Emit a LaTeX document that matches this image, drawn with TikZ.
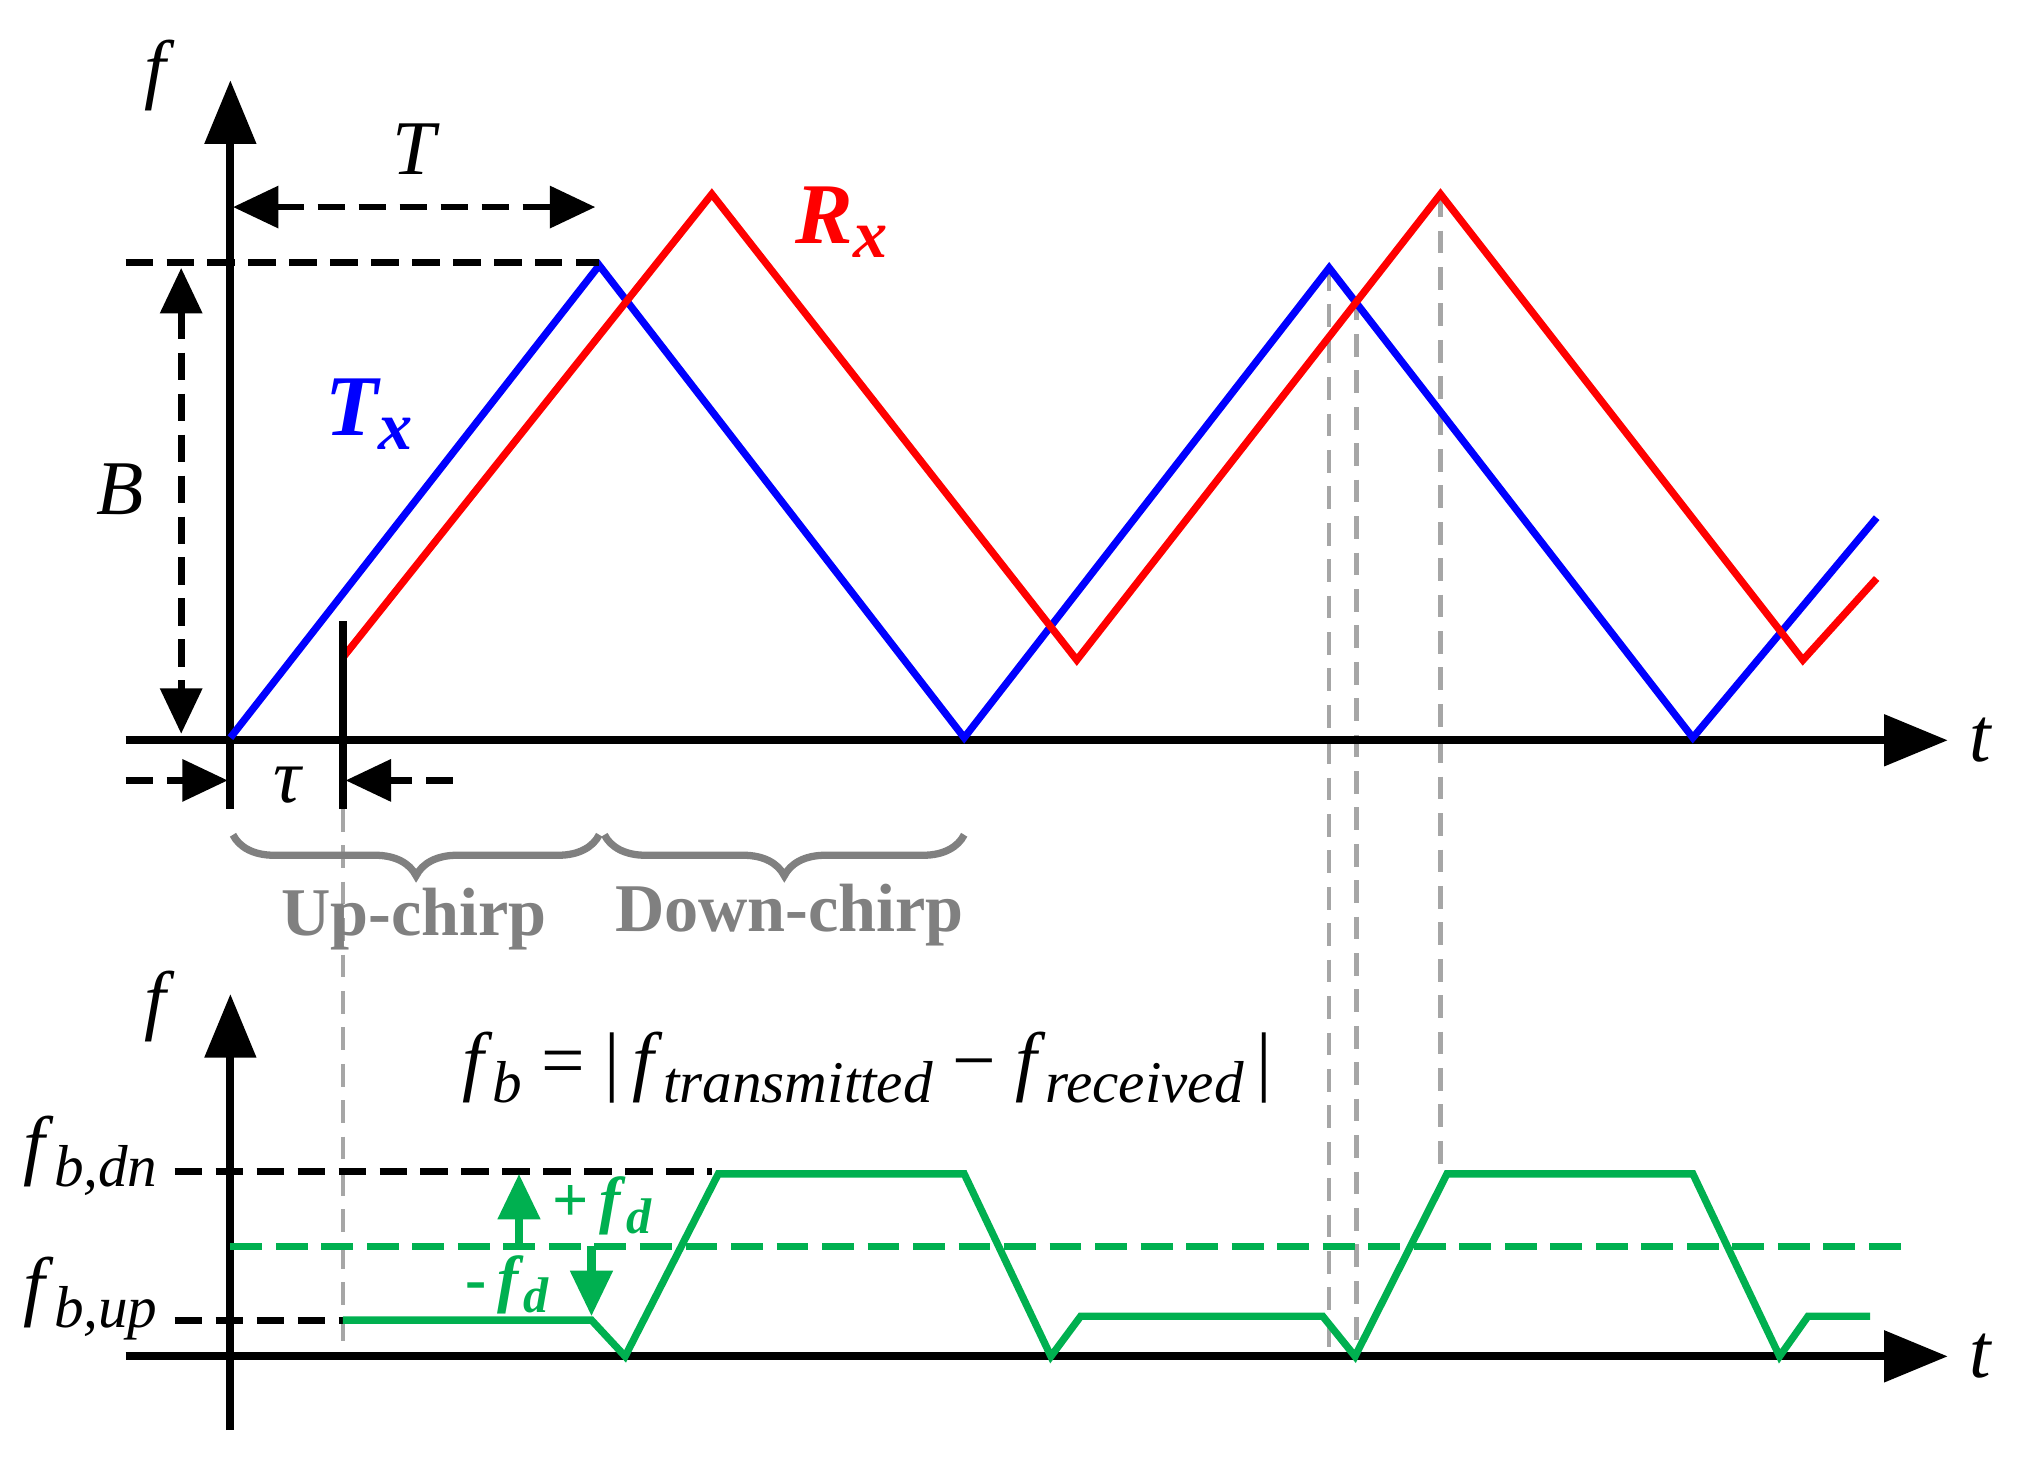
\documentclass[tikz,border=0pt]{standalone}
\usepackage{fontspec}
\setmainfont{Liberation Serif}
\usetikzlibrary{arrows.meta,decorations.pathreplacing}
\definecolor{grn}{RGB}{0,176,80}
\definecolor{gry}{RGB}{128,128,128}
\newcommand{\sbx}[1]{\raisebox{-0.45ex}{\fontsize{13}{13}\selectfont\itshape #1}}
\begin{document}
\begin{tikzpicture}[x=0.01cm,y=-0.01cm,
 ax/.style={line width=1.8pt,-{Triangle[length=14pt,width=11pt]}},
 dar/.style={line width=1.5pt,dashed,dash pattern=on 6pt off 3pt,-{Triangle[length=10pt,width=9pt]}},
 ddar/.style={dar,{Triangle[length=10pt,width=9pt]}-{Triangle[length=10pt,width=9pt]}},
 dl/.style={line width=1.5pt,dash pattern=on 6pt off 3pt},
 gd/.style={gray!70,line width=1pt,dash pattern=on 5pt off 3pt},
 sig/.style={line width=1.6pt},
 lab/.style={font=\fontsize{17}{20}\selectfont\itshape},
 brc/.style={gry,line width=1.6pt,decorate,decoration={brace,mirror,amplitude=9pt}},
 bt/.style={gry,font=\fontsize{15}{18}\selectfont\bfseries}]
\useasboundingbox (0,0) rectangle (1560,1134);
% gray guides
\draw[gd] (265,625) -- (265,1048);
\draw[gd] (1027,207) -- (1027,1048);
\draw[gd] (1048,230) -- (1048,1048);
\draw[gd] (1113,150) -- (1113,905);
% top axes
\draw[ax] (178,625) -- (178,62);
\draw[ax] (97,572) -- (1505,572);
\node[lab] (f1) at (120,58) {f};
\node[lab] (t1) at (1530,572) {t};
% signals
\draw[sig,blue] (178,570) -- (463,205) -- (745,570) -- (1027,207) -- (1308,570) -- (1450,400);
\draw[sig,red] (265,508) -- (550,150) -- (832,510) -- (1113,150) -- (1393,510) -- (1450,447);
\draw[line width=1.8pt] (265,480) -- (265,625);
\node[blue,font=\fontsize{19}{22}\selectfont\bfseries\itshape] (tx) at (285,320) {T\raisebox{-0.35ex}{\fontsize{15}{15}\selectfont x}};
\node[red,font=\fontsize{19}{22}\selectfont\bfseries\itshape] (rx) at (650,172) {R\raisebox{-0.35ex}{\fontsize{15}{15}\selectfont x}};
% T, B, tau
\draw[ddar] (180,160) -- (460,160);
\node[lab] (T) at (320,115) {T};
\draw[dl] (97,203) -- (463,203);
\draw[ddar] (140,207) -- (140,567);
\node[lab] (B) at (93,378) {B};
\draw[dar] (97,603) -- (176,603);
\draw[dar] (350,603) -- (267,603);
\node[lab] (tau) at (222,607) {τ};
% braces
\draw[brc] (180,645) -- (463,645);
\draw[brc] (467,645) -- (745,645);
\node[bt] (up) at (320,710) {Up-chirp};
\node[bt] (dn) at (610,707) {Down-chirp};
% bottom
\draw[ax] (178,1105) -- (178,768);
\draw[ax] (97,1048) -- (1505,1048);
\node[lab] (f2) at (120,778) {f};
\node[lab] (t2) at (1530,1048) {t};
\node[font=\fontsize{17}{20}\selectfont] (eq) at (670,825) {\textit{f}\sbx{b} = |\,\textit{f}\sbx{transmitted} − \textit{f}\sbx{received}\,|};
\draw[dl] (135,905) -- (550,905);
\draw[dl] (135,1020) -- (265,1020);
\node[font=\fontsize{17}{20}\selectfont] (fdn) at (70,893) {\textit{f}\sbx{b,dn}};
\node[font=\fontsize{17}{20}\selectfont] (fup) at (70,1003) {\textit{f}\sbx{b,up}};
\draw[grn,line width=1.6pt,dash pattern=on 7pt off 3pt] (178,963) -- (1473,963);
\draw[grn,sig] (265,1020) -- (457,1020) -- (483,1048) -- (555,907) -- (745,907) -- (812,1048) -- (835,1017) -- (1022,1017) -- (1047,1048) -- (1118,907) -- (1308,907) -- (1375,1048) -- (1397,1017) -- (1445,1017);
\draw[grn,line width=1.8pt,-{Triangle[length=10pt,width=9pt]}] (401,963) -- (401,907);
\draw[grn,line width=1.8pt,-{Triangle[length=10pt,width=9pt]}] (457,963) -- (457,1017);
\node[grn,font=\fontsize{14}{17}\selectfont\bfseries] (pf) at (465,932) {+\,\textit{f}\raisebox{-0.4ex}{\fontsize{11}{11}\selectfont\itshape d}};
\node[grn,font=\fontsize{14}{17}\selectfont\bfseries] (mf) at (392,993) {-\,\textit{f}\raisebox{-0.4ex}{\fontsize{11}{11}\selectfont\itshape d}};
\end{tikzpicture}
\end{document}
